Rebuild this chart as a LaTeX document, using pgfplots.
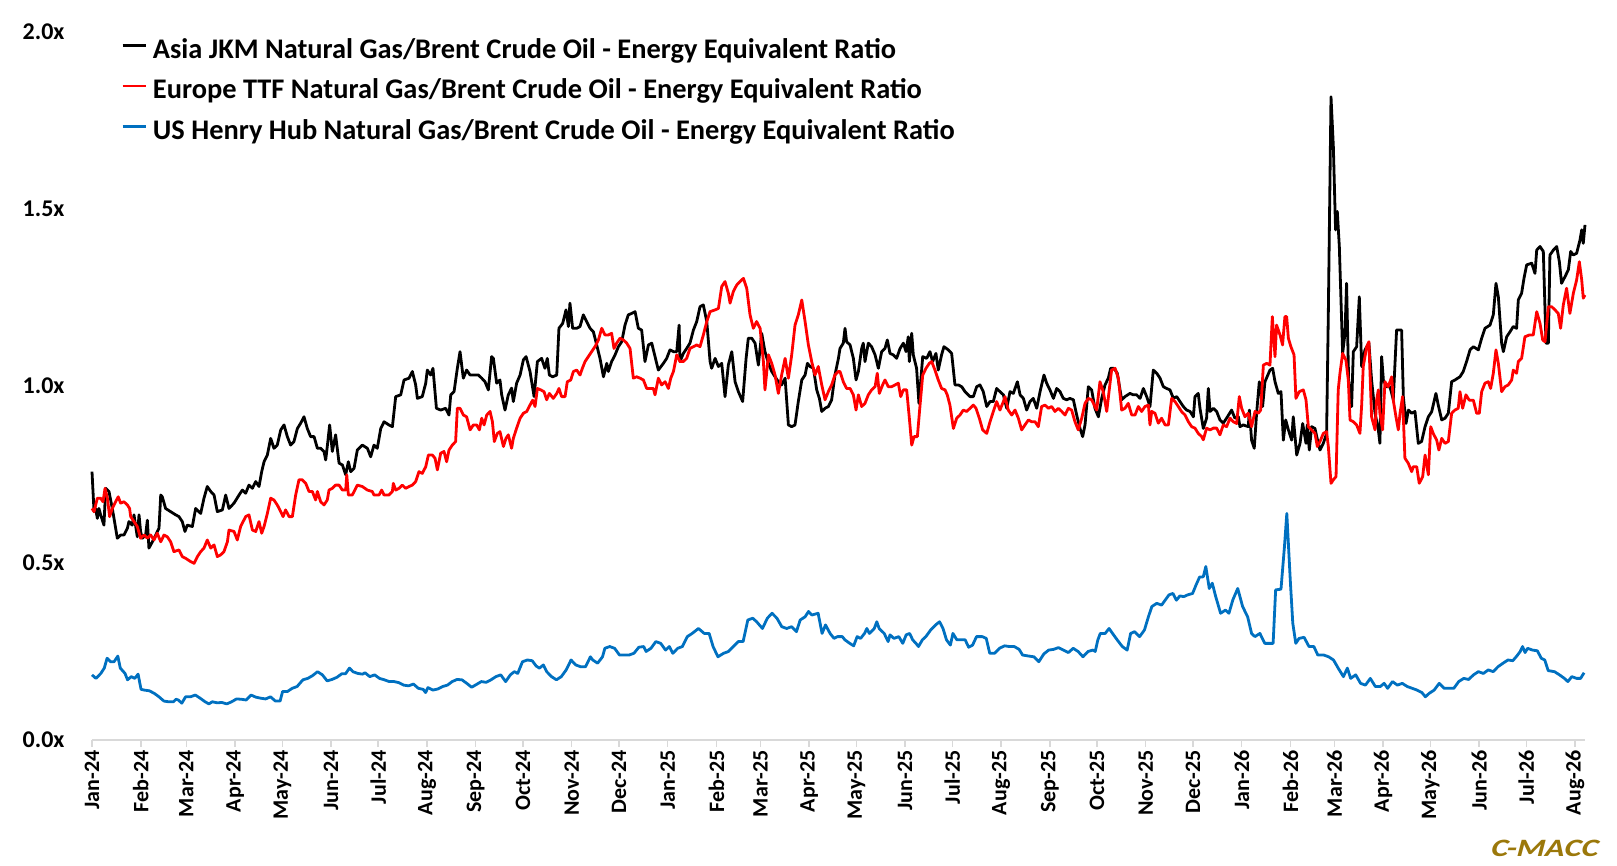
\documentclass[border=0pt]{standalone}
\usepackage{fontspec}
\setmainfont{Carlito}
\newfontfamily\cmfont[FakeSlant=0.2]{Carlito}
\usepackage{pgfplots}
\usepackage{pgfplotstable}
\pgfplotsset{compat=1.18}
\definecolor{hhblue}{RGB}{0,112,192}
\definecolor{axgray}{RGB}{217,217,217}
\definecolor{cmacc}{RGB}{155,120,10}

\pgfplotstableread{
d v
0 0.758
1.3 0.645
2.3 0.654
3.4 0.626
4.4 0.654
5.5 0.636
7.6 0.607
8.7 0.711
10.8 0.702
12.9 0.654
14.0 0.626
16.1 0.570
18.2 0.579
20.3 0.579
22.5 0.598
23.5 0.617
25.6 0.607
26.7 0.636
28.8 0.574
29.9 0.636
30.9 0.589
32.0 0.570
34.1 0.579
35.2 0.621
36.2 0.542
38.4 0.560
40.5 0.579
42.6 0.598
43.7 0.692
44.7 0.687
46.8 0.654
50.0 0.645
53.2 0.636
55.3 0.631
57.4 0.617
59.1 0.589
60.6 0.607
63.8 0.603
65.9 0.654
69.1 0.640
71.2 0.683
73.3 0.716
75.5 0.702
77.6 0.692
79.7 0.645
82.9 0.650
85.0 0.692
87.1 0.654
90.3 0.669
93.5 0.692
95.6 0.706
97.7 0.697
99.8 0.720
102.0 0.711
104.1 0.730
106.2 0.716
107.9 0.758
109.4 0.786
111.5 0.805
113.6 0.852
115.7 0.824
117.8 0.833
120.0 0.876
122.1 0.890
124.2 0.857
126.3 0.833
128.4 0.843
130.6 0.880
132.7 0.895
134.8 0.913
136.9 0.880
139.0 0.857
141.2 0.857
143.3 0.824
145.4 0.824
147.5 0.815
148.6 0.791
149.6 0.829
151.1 0.890
152.8 0.815
154.9 0.862
157.1 0.782
159.2 0.777
161.3 0.749
163.0 0.786
164.5 0.758
166.6 0.767
168.7 0.819
171.9 0.833
175.1 0.824
177.2 0.800
179.3 0.833
181.4 0.824
183.6 0.880
185.7 0.899
188.8 0.890
191.0 0.885
193.1 0.970
196.3 0.975
198.4 1.017
201.6 1.022
203.7 1.041
205.8 1.003
206.9 0.965
210.0 0.970
212.2 1.008
213.2 1.045
215.3 1.031
216.8 1.050
219.0 0.937
221.7 0.932
224.9 0.937
227.0 0.918
228.1 0.975
230.2 0.984
232.3 1.050
234.0 1.097
236.1 1.022
238.2 1.045
240.4 1.031
243.5 1.031
245.7 1.031
247.8 1.022
249.9 1.012
252.0 0.989
254.1 1.083
255.2 1.078
257.3 1.008
259.4 1.017
260.5 0.975
262.6 0.932
264.7 0.975
266.8 0.994
267.9 0.956
270.0 1.008
272.2 1.031
274.3 1.074
276.0 1.083
278.5 1.041
281.1 0.970
283.2 1.069
285.9 1.078
288.0 1.050
289.5 1.078
290.8 1.031
292.9 1.026
295.5 1.031
296.9 1.163
299.3 1.177
301.4 1.215
302.9 1.168
303.9 1.234
305.6 1.163
308.2 1.163
310.3 1.168
312.4 1.201
314.5 1.182
316.7 1.163
318.8 1.153
320.9 1.116
323.0 1.078
325.2 1.026
327.3 1.064
328.3 1.041
330.4 1.069
332.6 1.088
334.7 1.111
336.8 1.125
338.9 1.172
341.0 1.201
343.2 1.205
345.3 1.210
347.4 1.163
349.5 1.158
351.6 1.069
353.8 1.116
355.9 1.121
358.0 1.083
360.1 1.045
363.3 1.064
365.4 1.078
367.5 1.102
369.7 1.097
371.8 1.097
373.3 1.172
373.9 1.069
376.0 1.092
378.1 1.106
380.2 1.121
382.4 1.158
384.5 1.182
386.6 1.224
388.7 1.229
390.9 1.182
393.0 1.069
394.0 1.050
396.2 1.078
398.3 1.055
400.4 1.064
402.5 0.970
404.6 1.059
406.8 1.097
408.9 1.012
411.0 0.984
413.7 0.956
415.9 1.078
417.3 1.135
419.5 1.135
421.6 1.121
423.7 1.059
425.8 1.149
427.9 1.097
430.1 1.064
432.2 1.041
434.3 1.026
436.4 1.012
438.5 1.003
440.7 1.022
442.8 0.890
444.9 0.885
447.0 0.890
449.1 0.956
451.3 1.017
453.4 1.031
454.9 1.064
456.6 1.055
458.7 1.050
460.8 0.989
462.5 0.965
464.0 0.928
466.1 0.937
468.2 0.942
470.3 0.961
472.4 1.031
474.6 1.078
475.6 1.106
477.7 1.121
478.8 1.163
479.8 1.125
482.0 1.116
484.1 1.078
485.8 1.017
487.3 1.041
489.4 1.106
490.4 1.121
491.5 1.069
493.6 1.121
495.7 1.111
497.9 1.088
500.0 1.050
502.1 1.097
504.2 1.106
505.7 1.130
507.4 1.092
509.5 1.088
511.6 1.078
513.8 1.106
515.9 1.121
517.6 1.097
519.0 1.139
519.7 1.069
521.2 1.149
522.2 1.088
524.3 1.050
525.8 0.951
528.2 1.083
530.7 1.078
532.8 1.097
534.5 1.069
536.6 1.092
538.1 1.045
540.2 1.088
541.7 1.111
544.5 1.102
546.6 1.092
548.7 1.003
550.8 1.003
553.0 0.998
555.1 0.984
558.3 0.970
560.4 0.970
562.5 0.998
564.6 1.003
566.7 0.984
568.9 0.942
571.0 0.956
573.1 0.956
575.2 0.993
577.3 0.984
579.5 0.975
581.6 0.937
583.7 0.984
585.8 0.979
588.4 1.012
590.1 0.975
592.2 0.965
594.3 0.932
596.4 0.956
598.5 0.965
600.7 0.937
602.8 0.984
605.3 1.031
607.0 1.008
609.1 0.989
611.3 0.965
613.4 0.993
615.5 0.984
617.6 0.965
619.7 0.961
621.8 0.965
624.0 0.961
626.1 0.918
628.2 0.880
629.9 0.857
631.4 0.890
633.5 0.998
635.6 0.989
637.7 0.937
639.9 0.913
642.0 0.965
644.1 1.003
646.2 1.022
647.7 1.050
649.8 1.050
651.9 1.036
654.7 0.961
656.8 0.970
660.0 0.979
662.1 0.975
664.2 0.975
666.4 0.965
668.5 0.993
670.6 0.970
672.7 0.942
674.8 1.045
677.0 1.036
679.1 1.022
681.2 0.998
683.3 0.993
685.4 0.989
687.6 0.965
689.7 0.970
691.8 0.956
693.9 0.942
696.0 0.932
698.2 0.928
700.3 0.913
701.3 0.970
703.4 0.979
704.5 0.937
706.6 0.880
708.7 0.909
709.8 0.993
710.9 0.928
713.0 0.937
715.1 0.928
717.2 0.904
719.3 0.895
721.4 0.909
724.6 0.932
726.7 0.909
728.9 0.913
729.9 0.885
732.0 0.890
735.2 0.885
735.9 0.932
737.3 0.847
739.0 0.824
740.5 0.923
742.2 1.012
744.3 0.942
745.8 1.012
749.0 1.045
750.7 1.050
752.2 1.012
754.3 0.979
756.0 0.984
757.5 0.847
759.0 0.904
760.7 0.876
762.8 0.847
763.8 0.913
766.0 0.805
768.1 0.838
769.8 0.894
771.9 0.838
772.7 0.890
774.0 0.819
775.5 0.885
777.6 0.880
779.7 0.838
780.8 0.819
782.9 0.838
785.0 0.866
786.1 1.205
787.8 1.817
789.3 1.676
790.7 1.441
791.8 1.493
793.1 1.394
795.2 1.092
796.7 1.149
797.7 1.290
799.0 1.017
800.9 0.942
802.0 1.097
804.1 1.111
805.8 1.252
807.3 1.055
809.4 1.102
811.9 1.121
813.6 1.017
815.8 0.923
817.9 0.876
818.9 0.838
820.0 1.083
821.1 1.017
823.2 0.998
825.3 0.998
827.4 0.961
829.5 1.158
832.7 1.158
833.8 0.970
835.5 0.894
837.0 0.932
839.1 0.923
841.2 0.928
843.3 0.838
845.4 0.843
847.6 0.885
849.7 0.913
851.8 0.927
854.5 0.979
856.0 0.946
858.2 0.904
860.3 0.909
862.4 0.923
864.5 1.012
866.6 1.017
869.8 1.026
871.9 1.041
874.0 1.069
876.2 1.102
878.3 1.111
881.5 1.102
883.6 1.135
885.7 1.163
888.9 1.172
891.0 1.201
892.7 1.290
894.2 1.252
896.3 1.121
897.4 1.097
899.5 1.139
901.6 1.153
903.7 1.168
905.8 1.163
906.9 1.243
909.0 1.262
910.5 1.304
912.2 1.342
915.4 1.347
917.5 1.318
918.6 1.384
920.7 1.394
922.8 1.380
924.5 1.121
926.0 1.121
927.0 1.370
929.2 1.384
931.3 1.394
933.0 1.351
934.4 1.290
936.6 1.309
938.7 1.328
940.2 1.380
941.9 1.370
944.0 1.375
946.1 1.412
947.2 1.441
948.2 1.403
949.3 1.455
}\jkm

\pgfplotstableread{
d v
0 0.654
1.3 0.645
3.4 0.683
5.5 0.683
7.0 0.673
8.3 0.711
9.8 0.683
11.2 0.631
12.9 0.654
15.0 0.673
16.7 0.687
18.2 0.669
20.3 0.673
22.5 0.664
23.9 0.654
24.6 0.631
26.7 0.617
28.8 0.603
30.9 0.570
33.1 0.579
35.2 0.570
37.3 0.579
39.4 0.565
41.5 0.584
43.7 0.560
45.8 0.579
47.9 0.574
50.0 0.560
52.1 0.532
55.3 0.537
57.4 0.518
59.6 0.513
62.7 0.504
64.9 0.499
67.0 0.518
69.1 0.532
71.2 0.542
73.3 0.565
75.5 0.542
77.6 0.551
79.7 0.518
81.8 0.523
83.9 0.532
86.1 0.560
87.1 0.593
90.3 0.589
92.4 0.565
94.5 0.603
97.7 0.631
99.8 0.636
102.0 0.593
104.1 0.589
106.2 0.617
107.9 0.584
109.4 0.603
111.5 0.640
113.6 0.683
115.7 0.678
117.8 0.664
120.0 0.645
121.5 0.631
123.1 0.650
125.3 0.631
127.4 0.631
129.5 0.692
131.6 0.735
133.7 0.735
135.9 0.725
138.0 0.702
140.1 0.702
142.2 0.678
143.3 0.702
145.4 0.673
147.5 0.664
149.6 0.678
150.7 0.706
152.8 0.711
154.9 0.720
157.1 0.720
159.2 0.706
161.3 0.706
162.0 0.749
163.0 0.692
165.5 0.692
168.7 0.720
171.9 0.716
175.1 0.706
178.2 0.702
179.3 0.692
182.5 0.692
184.2 0.706
185.7 0.692
188.8 0.692
191.0 0.702
191.6 0.725
193.1 0.706
195.2 0.711
197.3 0.720
199.4 0.711
201.6 0.716
203.7 0.720
205.8 0.730
207.9 0.758
210.0 0.753
212.2 0.772
213.9 0.805
216.4 0.805
218.1 0.796
219.6 0.763
221.7 0.810
223.8 0.815
225.5 0.786
227.0 0.819
229.1 0.833
231.2 0.843
232.3 0.937
234.0 0.937
236.1 0.918
238.2 0.913
240.4 0.876
242.5 0.890
244.6 0.890
246.3 0.876
247.8 0.909
249.3 0.890
251.0 0.918
253.1 0.928
254.6 0.899
255.8 0.843
257.7 0.866
259.4 0.871
261.6 0.829
263.2 0.852
264.7 0.862
266.8 0.824
267.9 0.852
270.0 0.881
272.2 0.909
274.3 0.923
276.4 0.928
278.5 0.946
280.2 0.960
281.7 0.942
283.2 0.993
285.3 0.989
287.4 0.984
289.1 0.961
290.8 0.979
293.3 0.965
295.5 0.979
296.9 0.993
298.6 0.970
300.8 0.970
302.2 1.012
304.4 1.017
306.1 1.041
308.2 1.045
310.3 1.031
311.8 1.050
313.5 1.069
315.6 1.083
317.7 1.097
319.8 1.111
322.0 1.130
324.1 1.163
326.2 1.144
328.3 1.144
330.4 1.149
331.9 1.106
333.6 1.121
335.7 1.135
337.9 1.130
340.0 1.121
342.1 1.106
344.2 1.022
346.3 1.026
348.5 1.022
350.6 1.017
352.7 0.993
354.8 0.993
356.9 0.993
358.0 0.975
360.1 1.022
362.2 1.003
364.4 1.012
366.5 0.993
368.0 1.022
369.7 1.041
371.8 1.088
373.9 1.069
376.0 1.069
378.1 1.078
380.2 1.106
382.4 1.111
384.5 1.116
386.6 1.111
388.7 1.144
390.9 1.182
393.0 1.210
396.2 1.215
398.3 1.219
400.4 1.281
402.5 1.295
404.6 1.262
405.7 1.234
407.8 1.267
409.9 1.285
412.0 1.295
414.2 1.304
416.3 1.276
418.4 1.201
420.5 1.163
422.6 1.182
424.8 1.163
426.9 1.069
427.9 0.989
430.1 1.088
432.2 1.064
434.3 1.031
436.4 0.979
438.5 1.031
440.7 1.078
442.8 1.022
444.9 1.088
447.0 1.172
449.1 1.201
451.3 1.243
453.4 1.182
455.5 1.116
457.6 1.069
459.7 1.031
461.8 1.055
464.0 1.003
466.1 0.961
468.2 0.984
470.3 1.003
472.4 1.031
474.5 1.041
475.6 1.041
477.7 1.012
479.8 0.993
482.0 0.993
484.1 0.975
485.8 0.932
487.3 0.975
489.4 0.942
491.5 0.951
493.6 0.975
495.7 0.989
497.9 0.998
499.3 1.036
500.6 0.979
502.7 1.003
504.2 1.017
506.3 0.998
508.5 0.998
510.6 1.003
512.7 1.008
514.2 0.970
515.9 0.989
518.0 0.989
519.7 0.909
521.2 0.833
522.7 0.857
524.8 0.857
526.5 0.946
528.2 1.031
530.3 1.050
532.4 1.064
533.9 1.069
536.0 1.045
538.1 1.017
540.2 0.993
542.4 0.989
543.8 0.975
545.5 0.946
547.7 0.880
549.8 0.909
551.9 0.918
554.0 0.932
556.1 0.928
558.3 0.937
560.4 0.946
562.1 0.937
564.2 0.909
566.3 0.876
568.9 0.866
571.0 0.899
573.1 0.928
575.2 0.956
577.3 0.932
579.5 0.956
580.5 0.970
582.6 0.932
584.8 0.918
586.9 0.932
589.0 0.909
591.1 0.876
593.2 0.890
595.4 0.904
597.5 0.899
599.6 0.899
601.7 0.885
603.8 0.942
606.0 0.946
608.1 0.937
610.2 0.942
612.3 0.928
614.4 0.937
616.6 0.928
618.7 0.918
620.8 0.937
622.9 0.932
625.0 0.899
627.1 0.876
629.3 0.909
631.4 0.951
633.5 0.965
635.6 0.961
638.8 0.932
640.9 1.012
643.0 0.984
645.2 0.928
646.9 0.993
648.3 1.045
650.5 1.050
652.6 1.022
654.7 0.932
656.8 0.937
658.9 0.951
661.1 0.918
663.2 0.918
665.3 0.942
667.4 0.928
669.5 0.942
671.7 0.946
672.7 0.890
673.8 0.928
675.9 0.923
678.0 0.895
680.1 0.909
682.3 0.890
684.4 0.890
686.5 0.965
688.6 0.956
690.7 0.942
692.9 0.927
695.0 0.918
697.1 0.899
699.2 0.885
701.3 0.881
703.4 0.866
705.6 0.857
706.6 0.848
708.7 0.881
710.9 0.876
713.0 0.881
715.1 0.881
717.2 0.862
719.3 0.890
721.4 0.885
723.6 0.909
725.7 0.899
727.8 0.894
729.5 0.970
731.0 0.937
733.1 0.913
735.2 0.923
737.3 0.885
739.5 0.928
741.6 0.923
743.1 0.932
744.8 1.059
746.9 1.064
749.0 1.059
750.5 1.196
752.2 1.083
753.2 1.172
755.4 1.144
757.0 1.116
758.5 1.196
759.6 1.196
760.7 1.135
762.3 1.111
764.3 1.088
765.5 0.965
767.6 0.984
770.2 0.989
771.9 0.961
773.4 0.885
775.5 0.876
777.6 0.866
779.1 0.829
780.8 0.843
782.9 0.866
785.0 0.871
786.1 0.829
787.8 0.725
789.3 0.735
791.0 0.744
792.4 0.989
793.5 1.036
795.2 1.092
797.3 1.073
798.8 1.017
799.9 0.904
802.0 0.899
804.1 0.890
806.2 0.866
807.3 0.946
808.3 1.055
810.5 1.111
811.9 1.125
813.6 0.913
815.8 0.876
816.8 0.960
817.9 0.989
818.9 0.923
820.6 0.876
822.1 1.012
824.2 0.998
826.4 1.026
827.4 0.960
829.1 0.913
830.6 0.876
831.7 0.923
833.3 0.970
834.8 0.796
836.9 0.782
839.1 0.758
840.1 0.772
842.3 0.772
843.9 0.725
846.1 0.744
847.6 0.805
849.7 0.749
851.2 0.885
852.8 0.866
855.0 0.847
856.4 0.819
858.2 0.852
860.3 0.838
862.4 0.843
864.5 0.923
866.6 0.932
868.7 0.937
869.8 0.984
871.5 0.937
873.6 0.975
875.7 0.960
878.3 0.960
880.4 0.923
882.1 0.923
883.6 0.984
885.7 1.008
887.8 1.012
889.3 0.993
891.0 1.036
892.7 1.102
894.2 1.064
896.3 0.984
898.4 0.998
900.5 1.003
902.7 1.017
903.7 1.045
905.8 1.036
906.9 1.069
909.0 1.078
911.1 1.139
913.9 1.144
916.4 1.144
918.6 1.210
920.7 1.177
922.4 1.130
923.9 1.125
926.0 1.224
928.1 1.224
930.2 1.215
932.3 1.205
933.8 1.163
935.5 1.229
937.6 1.276
939.7 1.205
941.9 1.262
944.0 1.300
945.7 1.351
947.2 1.300
948.2 1.248
949.3 1.257
}\ttf

\pgfplotstableread{
d v
0.0 0.184
2.5 0.174
5.6 0.188
7.8 0.203
9.6 0.231
11.8 0.221
14.0 0.221
16.4 0.237
18.0 0.203
21.0 0.188
22.6 0.170
25.0 0.179
27.2 0.174
29.3 0.186
31.2 0.143
33.3 0.141
36.4 0.139
39.5 0.132
42.6 0.122
45.7 0.110
48.7 0.108
51.8 0.108
53.4 0.115
54.9 0.113
57.1 0.104
59.5 0.122
62.6 0.122
65.7 0.127
68.8 0.118
71.9 0.108
74.3 0.102
76.5 0.108
79.6 0.105
82.6 0.106
85.7 0.102
88.8 0.108
91.9 0.116
95.0 0.115
98.1 0.113
101.1 0.127
104.2 0.121
107.3 0.118
110.4 0.116
113.5 0.122
116.6 0.110
119.6 0.110
121.2 0.137
124.3 0.137
127.3 0.146
130.4 0.151
134.1 0.170
137.2 0.174
140.3 0.182
143.4 0.193
146.5 0.184
149.5 0.167
152.6 0.171
155.7 0.177
158.8 0.187
161.2 0.187
163.7 0.203
165.9 0.193
169.0 0.188
172.0 0.186
173.6 0.190
176.6 0.179
179.7 0.184
182.8 0.174
185.9 0.170
189.0 0.165
192.1 0.165
195.1 0.162
198.2 0.155
201.3 0.153
204.4 0.158
207.5 0.146
210.6 0.143
212.1 0.134
213.6 0.148
216.7 0.141
219.8 0.144
222.9 0.151
226.0 0.155
229.0 0.165
232.1 0.171
235.2 0.170
238.3 0.160
241.4 0.149
244.5 0.157
247.5 0.165
250.6 0.163
253.7 0.170
256.8 0.179
259.9 0.184
263.0 0.165
266.0 0.184
268.5 0.193
270.7 0.188
273.7 0.221
276.8 0.226
279.9 0.224
282.4 0.209
284.5 0.203
287.0 0.212
289.1 0.193
292.2 0.179
295.3 0.170
298.4 0.179
301.5 0.198
304.6 0.226
307.6 0.212
310.7 0.207
313.8 0.207
316.9 0.235
318.4 0.226
321.5 0.217
324.6 0.235
326.1 0.259
329.2 0.264
332.3 0.259
335.4 0.240
338.5 0.240
341.5 0.240
344.6 0.245
347.7 0.262
350.8 0.264
352.3 0.250
355.4 0.259
358.5 0.278
361.6 0.273
364.7 0.254
367.1 0.264
369.3 0.245
372.4 0.259
375.4 0.264
378.5 0.292
381.6 0.301
385.6 0.315
389.3 0.301
392.4 0.301
394.9 0.264
398.0 0.235
401.6 0.245
404.7 0.250
407.8 0.264
410.9 0.278
414.0 0.278
417.0 0.339
420.1 0.344
422.6 0.334
426.3 0.315
429.4 0.344
432.4 0.358
435.5 0.344
438.6 0.320
441.7 0.315
444.8 0.320
447.9 0.306
450.3 0.339
453.4 0.348
455.6 0.363
457.7 0.353
461.7 0.358
464.2 0.301
466.4 0.325
469.3 0.301
471.8 0.287
474.0 0.292
477.1 0.292
478.7 0.283
481.8 0.273
484.3 0.266
486.5 0.292
488.7 0.287
491.2 0.301
492.7 0.315
494.3 0.301
497.4 0.315
499.0 0.334
500.5 0.315
503.7 0.301
506.2 0.278
507.4 0.297
509.9 0.287
513.0 0.292
515.5 0.273
517.7 0.297
519.9 0.301
521.8 0.283
523.9 0.273
525.5 0.264
528.0 0.283
530.2 0.292
533.3 0.311
536.4 0.325
538.9 0.334
541.1 0.315
543.3 0.283
545.8 0.268
547.4 0.301
549.9 0.283
553.0 0.283
555.2 0.283
557.4 0.262
559.9 0.268
562.4 0.292
566.1 0.292
568.6 0.287
570.8 0.245
573.9 0.245
577.0 0.259
580.2 0.266
583.3 0.264
586.4 0.264
589.5 0.256
591.7 0.240
595.8 0.237
598.9 0.235
602.0 0.221
605.2 0.243
608.3 0.254
611.4 0.256
614.5 0.261
617.6 0.254
620.8 0.247
623.9 0.259
627.0 0.250
630.1 0.235
633.3 0.250
636.4 0.254
637.9 0.250
639.5 0.282
641.1 0.301
644.2 0.301
646.7 0.315
648.9 0.301
652.0 0.282
655.1 0.264
658.2 0.254
660.4 0.301
662.9 0.306
666.1 0.292
667.6 0.301
669.2 0.311
671.7 0.348
673.9 0.377
677.0 0.386
680.1 0.381
681.7 0.391
684.8 0.410
687.3 0.414
689.5 0.395
691.7 0.407
694.2 0.405
696.7 0.410
699.8 0.414
702.0 0.438
704.2 0.460
706.6 0.461
708.2 0.490
710.4 0.428
712.3 0.443
714.5 0.405
717.6 0.358
720.7 0.367
722.9 0.358
725.4 0.396
728.5 0.428
731.6 0.377
734.8 0.348
737.3 0.301
739.4 0.292
742.6 0.301
745.7 0.273
748.8 0.273
751.0 0.273
752.6 0.424
756.0 0.426
758.2 0.546
759.7 0.640
761.9 0.452
763.5 0.330
765.4 0.273
767.5 0.287
770.7 0.290
773.8 0.264
776.9 0.264
779.4 0.240
783.2 0.240
786.3 0.235
789.4 0.226
792.5 0.202
795.7 0.179
798.2 0.203
800.3 0.174
803.5 0.184
806.6 0.160
809.7 0.155
812.8 0.174
816.0 0.151
819.1 0.151
821.6 0.160
823.8 0.146
826.9 0.165
830.0 0.155
833.1 0.160
836.3 0.151
839.4 0.146
842.5 0.141
845.6 0.134
847.8 0.122
850.3 0.132
853.4 0.141
856.6 0.160
859.7 0.146
862.8 0.146
865.9 0.146
869.0 0.165
872.2 0.174
875.3 0.171
878.4 0.184
881.5 0.193
884.7 0.188
887.8 0.198
890.9 0.193
894.0 0.207
897.2 0.217
900.3 0.226
903.4 0.224
905.9 0.237
908.1 0.250
909.6 0.264
911.2 0.247
912.8 0.259
915.9 0.254
919.0 0.252
921.5 0.231
923.7 0.226
925.9 0.196
929.9 0.193
933.1 0.184
936.2 0.174
938.4 0.165
940.9 0.179
944.0 0.174
946.5 0.174
948.7 0.190
}\hh

\begin{document}
\begin{tikzpicture}
\path[use as bounding box] (-92pt,-126pt) rectangle (1525pt,740pt);
\begin{axis}[
  at={(0pt,0pt)}, anchor=south west,
  scale only axis, width=1493pt, height=708pt,
  xmin=0, xmax=949.3, ymin=0, ymax=2,
  clip=false,
  axis x line*=bottom, axis y line*=left,
  x axis line style={draw=axgray, line width=2pt, -},
  y axis line style={draw=none},
  ytick={0,0.5,1,1.5,2},
  yticklabels={0.0x,0.5x,1.0x,1.5x,2.0x},
  ytick style={draw=none},
  yticklabel style={font=\fontsize{24}{24}\selectfont\bfseries, anchor=east, xshift=-17pt},
  xtick={0,31,60,91,121,152,182,213,244,274,305,335,366,397,425,456,486,517,547,578,609,639,670,700,731,762,790,821,851,882,912,943},
  xticklabels={Jan-24,Feb-24,Mar-24,Apr-24,May-24,Jun-24,Jul-24,Aug-24,Sep-24,Oct-24,Nov-24,Dec-24,Jan-25,Feb-25,Mar-25,Apr-25,May-25,Jun-25,Jul-25,Aug-25,Sep-25,Oct-25,Nov-25,Dec-25,Jan-26,Feb-26,Mar-26,Apr-26,May-26,Jun-26,Jul-26,Aug-26},
  xtick style={draw=axgray, line width=1.5pt},
  tick align=outside, major tick length=7pt,
  xticklabel style={font=\fontsize{22}{22}\selectfont\bfseries, rotate=90, anchor=east},
  legend cell align=left,
  legend style={draw=none, fill=none, at={(axis description cs:0.0194,0.993)}, anchor=north west,
    font=\fontsize{28.4}{30}\selectfont\bfseries, row sep=17pt, column sep=5pt, inner sep=0pt,
    nodes={inner sep=1pt}},
  legend image code/.code={\draw[#1] (0pt,0.33em) -- (23pt,0.33em);},
]
\addplot[black, line width=2.8pt, line join=round] table[x=d, y=v] {\jkm};
\addlegendentry{Asia JKM Natural Gas/Brent Crude Oil - Energy Equivalent Ratio}
\addplot[red, line width=2.8pt, line join=round] table[x=d, y=v] {\ttf};
\addlegendentry{Europe TTF Natural Gas/Brent Crude Oil - Energy Equivalent Ratio}
\addplot[hhblue, line width=2.8pt, line join=round] table[x=d, y=v] {\hh};
\addlegendentry{US Henry Hub Natural Gas/Brent Crude Oil - Energy Equivalent Ratio}
\end{axis}
\node[anchor=base east, text=cmacc, xscale=1.3, font=\cmfont\fontsize{25}{25}\selectfont\bfseries] at (1510pt,-117pt) {C-MACC};
\end{tikzpicture}
\end{document}
